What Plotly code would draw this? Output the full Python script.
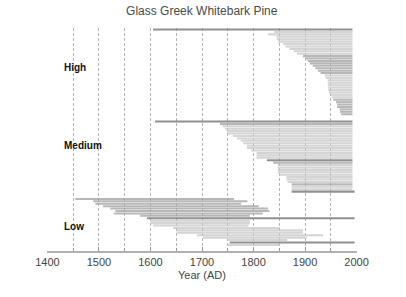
import plotly.graph_objects as go

# ---- data (years AD), rows listed top to bottom within each group ----
high_start = [1605, 1840, 1828, 1845, 1845, 1848, 1857, 1862, 1870, 1878, 1884, 1896,
              1900, 1905, 1909, 1915, 1920, 1925, 1930, 1938, 1940, 1944, 1944, 1944,
              1945, 1945, 1946, 1950, 1952, 1955, 1960, 1962, 1962, 1967, 1968, 1970]
high_end = [1992] * 36
high_kind = list("dllllllllllmmmmmmmmllllllllllmmmmmmm")

med_start = [1609, 1735, 1740, 1745, 1748, 1750, 1760, 1768, 1775, 1780, 1787, 1787,
             1795, 1806, 1806, 1806, 1826, 1838, 1847, 1847, 1847, 1847, 1850, 1864,
             1864, 1866, 1874, 1874, 1874, 1874]
med_end = [1992] * 29 + [1996]
med_kind = list("dmlllllllllllllldmllllllllmlld")

low_start = [1454, 1489, 1493, 1508, 1522, 1532, 1529, 1580, 1593, 1600, 1600, 1605,
             1644, 1651, 1651, 1690, 1702, 1748, 1754, 1748]
low_end = [1762, 1788, 1776, 1810, 1828, 1831, 1818, 1793, 1996, 1793, 1793, 1790,
           1851, 1896, 1896, 1935, 1903, 1865, 1996, 1851]
low_kind = list("mmmmmmmmdllllllllldl")

group_labels = ["High", "Medium", "Low"]
x_ticks = [1400, 1500, 1600, 1700, 1800, 1900, 2000]

colors = {"d": "rgba(125,125,125,0.85)", "m": "rgba(165,165,165,0.8)",
          "l": "rgba(200,200,200,0.78)"}

groups = [(high_start, high_end, high_kind),
          (med_start, med_end, med_kind),
          (low_start, low_end, low_kind)]

ys, bases, lens, cols = [], [], [], []
row = 0
for s, e, k in groups:
    for a, b, c in zip(s, e, k):
        ys.append(row)
        bases.append(a)
        lens.append(b - a)
        cols.append(colors[c])
        row += 1
    row += 2  # gap between groups
last_row = ys[-1]

fig = go.Figure()
fig.add_trace(go.Bar(
    y=ys, x=lens, base=bases, orientation="h",
    marker=dict(color=cols, line=dict(width=0)),
    hoverinfo="skip", showlegend=False,
))

label_pos = [15.8, 47.8, 81.5]
for txt, yy in zip(group_labels, label_pos):
    fig.add_annotation(x=1428, y=yy, xref="x", yref="y", text="<b>%s</b>" % txt,
                       showarrow=False, xanchor="left", yanchor="middle",
                       font=dict(family="Liberation Sans, Arial", size=10, color="#111"))

grid = dict(gridcolor="#b4b4b4", griddash="3px,2px", gridwidth=1)
fig.update_layout(
    width=406, height=297,
    margin=dict(l=47, r=49, t=28, b=46),
    paper_bgcolor="white", plot_bgcolor="white",
    bargap=0.15,
    font=dict(family="Liberation Sans, Arial", size=11, color="#444"),
    title=dict(text="Glass Greek Whitebark Pine", x=0.497, xanchor="center",
               y=0.965, yanchor="middle",
               font=dict(family="Liberation Sans, Arial", size=12, color="#4a4a4a")),
)
fig.update_xaxes(
    range=[1399.2, 2000.8], tickvals=x_ticks, ticktext=[str(v) for v in x_ticks],
    showgrid=True, **grid,
    minor=dict(dtick=50, tick0=1400, showgrid=True, ticks="inside", ticklen=3,
               tickcolor="#999", **grid),
    ticks="inside", ticklen=4, tickcolor="#999",
    showline=True, linecolor="#b0b0b0", linewidth=2,
    zeroline=False,
    title=dict(text="Year (AD)", standoff=4, font=dict(size=11, color="#444")),
    tickfont=dict(size=11, color="#444"),
)
fig.update_yaxes(
    range=[last_row + 2.53, -0.63], showgrid=False, showticklabels=False,
    zeroline=False, showline=False, ticks="",
)

fig.write_html("out.html")
